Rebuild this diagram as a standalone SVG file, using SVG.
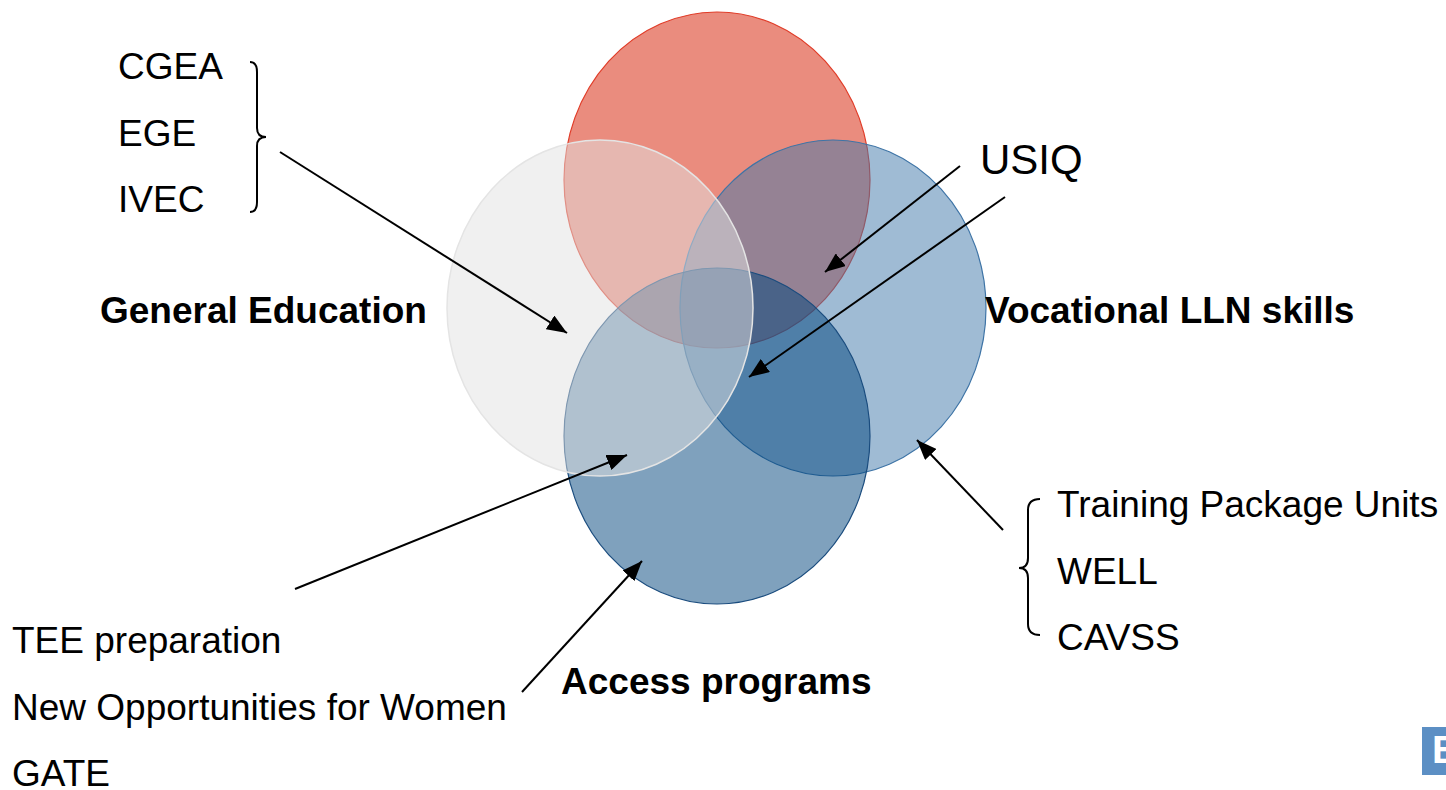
<svg xmlns="http://www.w3.org/2000/svg" width="1446" height="790" viewBox="0 0 1446 790">
<style>
.t{font-family:"Liberation Sans",Arial,sans-serif;font-size:37px;fill:#000}
.b{font-weight:bold}
.br{fill:none;stroke:#000;stroke-width:2}
.ar{stroke:#000;stroke-width:2;fill:none;marker-end:url(#ah)}
</style>
<defs>
<marker id="ah" markerUnits="userSpaceOnUse" markerWidth="22" markerHeight="16" refX="20" refY="8" orient="auto">
<path d="M0,0 L20,8 L0,16 Z" fill="#000"/>
</marker>
</defs>
<rect width="1446" height="790" fill="#fff"/>
<g id="circles">
<g id="vocational-red"><ellipse cx="717" cy="180" rx="153" ry="168" fill="#EA8C7E" stroke="#E03C28" stroke-width="1.2"/></g>
<g id="vocational-lln"><ellipse cx="833" cy="308" rx="153" ry="168" fill="#3F77A9" fill-opacity="0.5" stroke="#3E74A6" stroke-width="1.2"/></g>
<g id="access"><ellipse cx="717" cy="436" rx="153" ry="168" fill="#00437B" fill-opacity="0.5" stroke="#1A4C7E" stroke-width="1.2"/></g>
<g id="general"><ellipse cx="600" cy="308" rx="153" ry="168" fill="#E1E1E1" fill-opacity="0.5" stroke="#E4E4E4" stroke-width="1.5"/></g>
</g>
<g id="labels">
<text class="t b" x="100" y="323">General Education</text>
<text class="t b" x="985" y="323">Vocational LLN skills</text>
<text class="t b" x="561" y="694">Access programs</text>
<text class="t" x="980" y="174" style="font-size:42px">USIQ</text>
</g>
<g id="general-list">
<text class="t" x="118" y="79">CGEA</text>
<text class="t" x="118" y="146">EGE</text>
<text class="t" x="118" y="212">IVEC</text>
<path class="br" d="M250,62 Q257,62 257,72 L257,128 Q257,137 266,137 Q257,137 257,146 L257,202 Q257,212 250,212"/>
</g>
<g id="vocational-list">
<text class="t" x="1057" y="517">Training Package Units</text>
<text class="t" x="1057" y="584">WELL</text>
<text class="t" x="1057" y="650">CAVSS</text>
<path class="br" d="M1040,499 Q1028,499 1028,510 L1028,558 Q1028,568 1019,568 Q1028,568 1028,578 L1028,624 Q1028,635 1040,635"/>
</g>
<g id="access-list">
<text class="t" x="12" y="653">TEE preparation</text>
<text class="t" x="12" y="720">New Opportunities for Women</text>
<text class="t" x="12" y="786">GATE</text>
</g>
<g id="connectors">
<line class="ar" x1="280" y1="152" x2="567" y2="333"/>
<line class="ar" x1="960" y1="166" x2="825" y2="272"/>
<line class="ar" x1="1005" y1="197" x2="749" y2="377"/>
<line class="ar" x1="295" y1="589" x2="627" y2="455"/>
<line class="ar" x1="522" y1="692" x2="642" y2="561"/>
<line class="ar" x1="1003" y1="530" x2="917" y2="440"/>
</g>
<g id="logo">
<rect x="1422" y="727" width="30" height="48" fill="#5C8FC4"/>
<text x="1432" y="763" style="font-family:'Liberation Sans',Arial,sans-serif;font-size:39px;font-weight:bold;fill:#fff">B</text>
</g>
</svg>
